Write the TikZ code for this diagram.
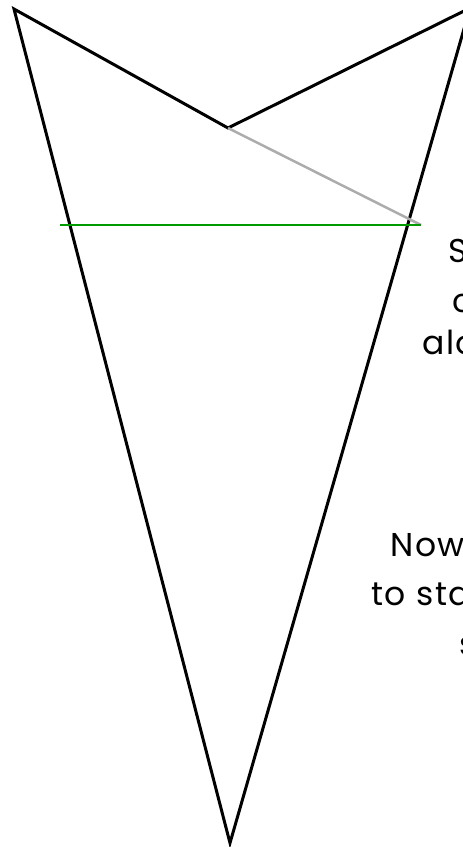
\documentclass[tikz,border=0pt]{standalone}
\usepackage{fontspec}
\setmainfont{Poppins}[LetterSpace=5]
\begin{document}
\begin{tikzpicture}[x=1pt, y=-1pt,
    outline/.style={draw=black, line width=3pt, line join=miter},
    cutline/.style={draw=gray!65, line width=2.5pt},
    foldline/.style={draw=green!60!black, line width=2.5pt},
    note/.style={font=\fontsize{33}{48}\selectfont, anchor=base west, inner sep=0pt}
  ]
  \useasboundingbox (0,0) rectangle (463,847);
  \clip (0,0) rectangle (463,847);
  % --- corners of the shape ---
  \coordinate (topl)  at (14,9);
  \coordinate (notch) at (228,128);
  \coordinate (topr)  at (470,8);
  \coordinate (tip)   at (230,843);
  \coordinate (cutr)  at (421,225);
  \coordinate (foldl) at (60,225);

  \draw[outline] (topl) -- (notch) -- (topr) -- (tip) -- cycle;
  \draw[cutline] (notch) -- (cutr);
  \draw[foldline] (foldl) -- (cutr);

  % --- notes (cut off at the edge) ---
  \node[note] (n1) at (448,262) {S};
  \node[note] (n2) at (452,312) {c};
  \node[note] (n3) at (422,354) {alo};
  \node[note] (n4) at (390,556) {Now};
  \node[note] (n5) at (371,605) {to sta};
  \node[note] (n6) at (459,655) {s};
\end{tikzpicture}
\end{document}
